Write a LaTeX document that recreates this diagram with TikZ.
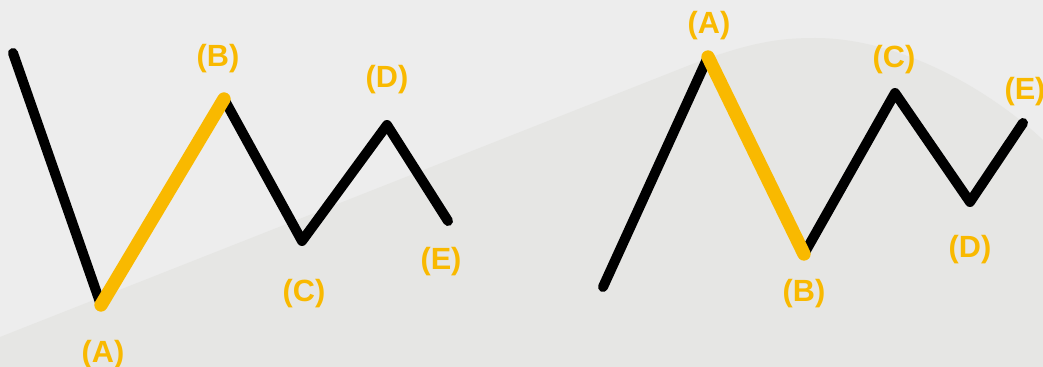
\documentclass[tikz,border=0pt]{standalone}
\usepackage{fontspec}
\setmainfont{Liberation Sans}
\definecolor{wavegold}{RGB}{249,185,0}
\definecolor{bgtop}{RGB}{237,237,237}
\definecolor{bgbottom}{RGB}{230,230,228}

\begin{document}
\begin{tikzpicture}[x=0.75pt,y=-0.75pt,
  wave/.style={line width=7.5pt,line cap=round,line join=round},
  impulse/.style={wave,line width=10pt,wavegold},
  tag/.style={font=\bfseries\fontsize{23}{23}\selectfont,text=wavegold,inner sep=0pt,yshift=-2pt}]
  % background
  \fill[bgtop](0,0)rectangle(1043,367);
  \fill[bgbottom](0,337)--(690,65)..controls(750,42)and(780,38)..(815,38)..controls(900,38)and(990,90)..(1043,140)--(1043,367)--(0,367)--cycle;
  \useasboundingbox(0,0)rectangle(1043,367);

  % left wave
  \coordinate(l0)at(13,53);
  \coordinate(lA)at(101,305);
  \coordinate(lB)at(224,99);
  \coordinate(lC)at(302,241);
  \coordinate(lD)at(387,125);
  \coordinate(lE)at(448,221);
  \draw[wave](l0)--(lA)--(lB)--(lC)--(lD)--(lE);
  \draw[impulse](lA)--(lB);
  \node[tag](tlA)at(103,352){(A)};
  \node[tag](tlB)at(218,56){(B)};
  \node[tag](tlC)at(304,291){(C)};
  \node[tag](tlD)at(387,77){(D)};
  \node[tag](tlE)at(441,259){(E)};

  % right wave
  \coordinate(r0)at(603,287);
  \coordinate(rA)at(708,57);
  \coordinate(rB)at(804,254);
  \coordinate(rC)at(895,93);
  \coordinate(rD)at(970,202);
  \coordinate(rE)at(1023,123);
  \draw[wave](r0)--(rA)--(rB)--(rC)--(rD)--(rE);
  \draw[impulse](rA)--(rB);
  \node[tag](trA)at(709,23){(A)};
  \node[tag](trB)at(804,291){(B)};
  \node[tag](trC)at(894,57){(C)};
  \node[tag](trD)at(970,247){(D)};
  \node[tag](trE)at(1025,89){(E)};
\end{tikzpicture}
\end{document}
